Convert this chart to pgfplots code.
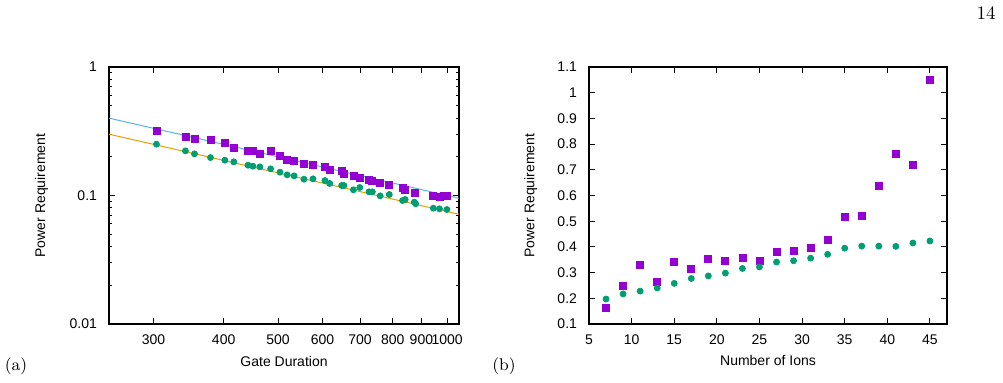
\documentclass[border=0pt]{standalone}
\usepackage{fontspec}
\usepackage{pgfplots}
\pgfplotsset{compat=1.18}
\newfontfamily\helv{Liberation Sans}
\definecolor{gpviolet}{HTML}{9400D3}
\definecolor{gpgreen}{HTML}{009E73}
\definecolor{gpblue}{HTML}{56B4E9}
\definecolor{gporange}{HTML}{E69F00}

\pgfplotsset{
  gpstyle/.style={
    scale only axis,
    axis line style={line width=0.6pt, black},
    tick align=inside,
    major tick length=3pt,
    minor tick length=1.5pt,
    every tick/.style={black, line width=0.5pt},
    tick label style={font=\helv\fontsize{7}{8}\selectfont},
    label style={font=\helv\fontsize{7}{8}\selectfont},
    /pgf/number format/assume math mode=true,
    xlabel style={at={(axis description cs:0.5,-0.144)}, anchor=center},
    xticklabel style={yshift=-2pt},
    yticklabel style={xshift=-2.5pt},
  },
  sq/.style={only marks, mark=square*, mark size=1.75pt, color=gpviolet, mark options={draw=none}},
  dot/.style={only marks, mark=*, mark size=1.5pt, color=gpgreen, mark options={draw=none}},
}

% gate duration vs. power requirement
\pgfplotstableread{
x y
303.7 0.320
342 0.2874
355 0.2773
379 0.2692
402 0.2551
417 0.2361
442 0.2224
451 0.2224
464 0.2096
485 0.2224
504 0.2046
519 0.1905
534 0.1848
556 0.1772
577 0.1741
606 0.1680
618 0.1573
649 0.1545
655 0.1483
681 0.1414
699 0.1380
726 0.1316
736 0.1293
760 0.1262
789 0.1203
833 0.1154
842 0.1113
877 0.1055
945 0.1000
969 0.0976
985 0.0988
999 0.0988
}\durA
\pgfplotstableread{
x y
303.7 0.2506
342 0.2224
355 0.2108
379 0.1974
402 0.1882
417 0.1827
442 0.1721
451 0.1690
464 0.1670
485 0.1612
504 0.1518
519 0.1447
534 0.1421
556 0.1339
577 0.1347
606 0.1307
618 0.1240
649 0.1196
655 0.1196
681 0.1107
699 0.1154
726 0.1068
736 0.1068
760 0.0994
789 0.1018
833 0.0914
842 0.0931
874 0.0888
879 0.0862
945 0.0797
969 0.0788
999 0.0778
}\durB

% number of ions vs. power requirement
\pgfplotstableread{
n y
7 0.161
9 0.250
11 0.329
13 0.262
15 0.340
17 0.314
19 0.355
21 0.347
23 0.359
25 0.344
27 0.379
29 0.386
31 0.398
33 0.426
35 0.518
37 0.522
39 0.639
41 0.763
43 0.720
45 1.051
}\ionA
\pgfplotstableread{
n y
7 0.197
9 0.217
11 0.228
13 0.240
15 0.258
17 0.277
19 0.287
21 0.298
23 0.316
25 0.322
27 0.341
29 0.346
31 0.356
33 0.371
35 0.395
37 0.403
39 0.403
41 0.402
43 0.415
45 0.423
}\ionB

\begin{document}
\begin{tikzpicture}
\useasboundingbox (0,0) rectangle (501.5pt,191.5pt);

\begin{loglogaxis}[gpstyle,
  at={(54.5pt,29.5pt)}, anchor=south west,
  width=175pt, height=128.5pt,
  xmin=250, xmax=1050, ymin=0.01, ymax=1,
  xtick={300,400,500,600,700,800,900,1000},
  xticklabels={300,400,500,600,700,800,900,1000},
  minor xtick={},
  ytick={0.01,0.1,1},
  yticklabels={0.01,0.1,1},
  minor ytick={0.02,0.03,0.04,0.05,0.06,0.07,0.08,0.09,0.2,0.3,0.4,0.5,0.6,0.7,0.8,0.9},
  xlabel={Gate Duration},
  ylabel={Power Requirement},
  ylabel style={at={(axis description cs:-0.193,0.5)}, anchor=center},
]
\addplot[sq] table[x=x,y=y] {\durA};
\addplot[dot] table[x=x,y=y] {\durB};
\addplot[gpblue, line width=0.5pt] coordinates {(250,0.4) (1050,0.095238)};
\addplot[gporange, line width=0.5pt] coordinates {(250,0.3) (1050,0.071429)};
\end{loglogaxis}

\begin{axis}[gpstyle,
  at={(294.5pt,29.5pt)}, anchor=south west,
  width=179pt, height=128.5pt,
  xmin=5, xmax=47, ymin=0.1, ymax=1.1,
  xtick={5,10,15,20,25,30,35,40,45},
  ytick={0.1,0.2,0.3,0.4,0.5,0.6,0.7,0.8,0.9,1,1.1},
  yticklabels={0.1,0.2,0.3,0.4,0.5,0.6,0.7,0.8,0.9,1,1.1},
  xlabel={Number of Ions},
  ylabel={Power Requirement},
  ylabel style={at={(axis description cs:-0.163,0.5)}, anchor=center},
]
\addplot[sq] table[x=n,y=y] {\ionA};
\addplot[dot] table[x=n,y=y] {\ionB};
\end{axis}

\node[inner sep=0, font=\fontsize{8.5}{10}\selectfont] at (8pt,8.25pt) {(a)};
\node[inner sep=0, font=\fontsize{8.5}{10}\selectfont] at (252pt,8.25pt) {(b)};
\node[inner sep=0, anchor=north east, font=\fontsize{9.5}{11}\selectfont] at (498pt,188.5pt) {14};
\end{tikzpicture}
\end{document}
